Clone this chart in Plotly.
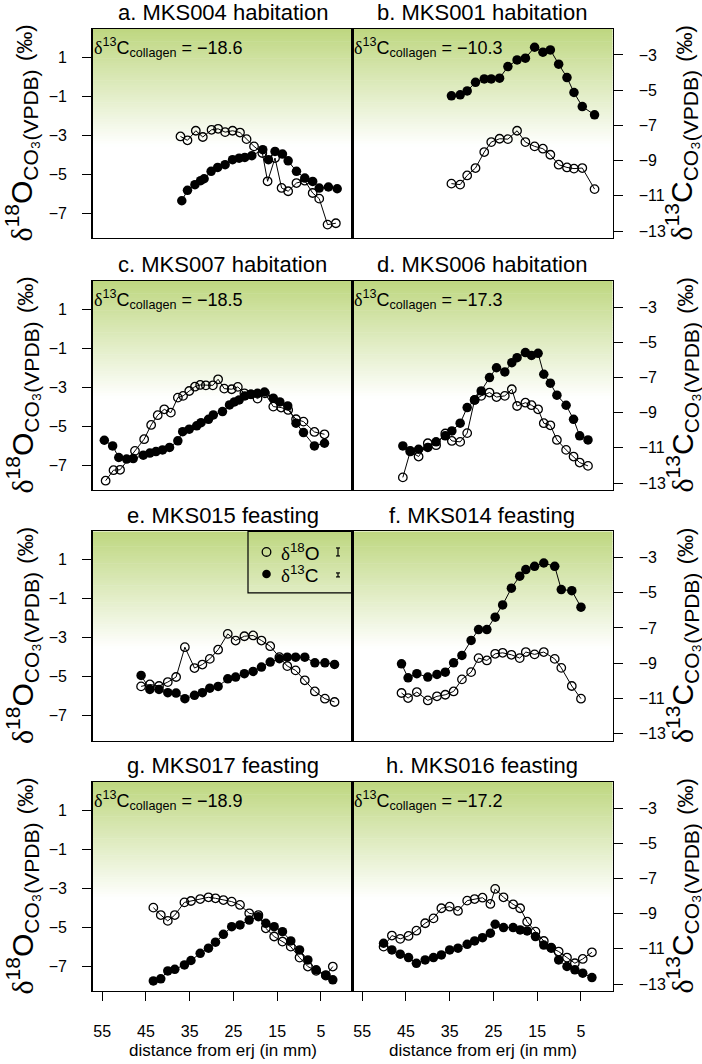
import plotly.graph_objects as go

W, H = 702, 1064
FONT = "Liberation Sans, Arial, Helvetica, sans-serif"
SERIF = "Liberation Serif"
MINUS = "\u2212"

# ---------------- data (distance from erj in mm, isotope values in permil) ----------------
titles = ["a. MKS004 habitation", "b. MKS001 habitation", "c. MKS007 habitation",
          "d. MKS006 habitation", "e. MKS015 feasting", "f. MKS014 feasting",
          "g. MKS017 feasting", "h. MKS016 feasting"]
collagen = ["−18.6", "−10.3", "−18.5", "−17.3", None, None, "−18.9", "−17.2"]

a_x18 = [37.1, 35.5, 33.6, 32.0, 30.0, 28.5, 26.9, 25.2, 23.5, 22.0, 20.3, 18.4, 17.2, 15.5, 14.0, 12.5, 10.6, 8.7, 6.9, 5.4, 3.5, 1.6]
a_d18O = [-3.07, -3.27, -2.78, -3.10, -2.73, -2.68, -2.85, -2.78, -2.87, -3.21, -3.58, -3.92, -5.37, -4.18, -5.71, -5.88, -5.46, -5.34, -5.97, -6.26, -7.59, -7.52]
a_x13 = [36.8, 35.5, 33.8, 32.5, 31.7, 30.1, 28.6, 26.9, 25.2, 23.7, 22.4, 20.8, 18.3, 17.0, 15.5, 13.8, 12.5, 10.6, 8.7, 6.9, 5.4, 3.3, 1.3]
a_d13C = [-11.28, -10.69, -10.37, -10.14, -10.03, -9.61, -9.39, -9.23, -8.95, -8.86, -8.82, -8.72, -8.38, -8.95, -8.48, -8.63, -9.01, -9.61, -9.99, -10.18, -10.56, -10.50, -10.60]

b_x = [34.6, 32.6, 31.0, 29.1, 27.1, 25.5, 23.6, 21.7, 19.6, 17.7, 15.6, 13.7, 12.0, 10.1, 8.2, 6.6, 4.7, 1.9]
b_d18O = [-5.49, -5.54, -5.07, -4.69, -3.87, -3.36, -3.19, -3.21, -2.78, -3.36, -3.58, -3.70, -4.01, -4.52, -4.66, -4.72, -4.69, -5.77]
b_d13C = [-5.32, -5.26, -5.04, -4.55, -4.36, -4.36, -4.32, -3.66, -3.28, -3.18, -2.56, -2.84, -2.71, -3.52, -4.28, -5.13, -5.93, -6.40]

c_x18 = [54.2, 52.4, 50.9, 47.5, 45.4, 43.8, 42.3, 40.8, 39.3, 37.7, 36.5, 35.1, 33.8, 32.6, 31.3, 29.7, 28.5, 27.1, 25.4, 24.0, 22.5, 21.0, 19.5, 17.8, 15.9, 14.1, 12.5, 10.7, 9.0, 6.5, 4.2]
c_d18O = [-7.80, -7.26, -7.24, -6.27, -5.67, -4.94, -4.44, -4.14, -4.31, -3.54, -3.45, -3.20, -2.98, -2.89, -2.91, -2.91, -2.60, -3.08, -3.11, -2.99, -3.32, -3.37, -3.59, -3.32, -4.00, -4.05, -4.17, -4.65, -4.77, -5.30, -5.42]
c_x13 = [54.5, 52.6, 51.2, 49.4, 47.9, 45.6, 44.1, 42.7, 41.2, 39.6, 37.7, 36.6, 35.1, 33.4, 32.4, 30.7, 29.6, 27.5, 25.9, 24.8, 23.7, 22.4, 21.0, 19.5, 17.9, 15.9, 14.4, 12.6, 10.7, 9.0, 6.5, 4.2]
c_d13C = [-10.57, -10.89, -11.55, -11.64, -11.61, -11.42, -11.30, -11.21, -11.12, -10.98, -10.60, -10.08, -9.94, -9.75, -9.57, -9.38, -9.13, -8.94, -8.56, -8.39, -8.28, -8.05, -7.96, -7.90, -7.83, -8.18, -8.39, -8.62, -9.60, -10.13, -10.89, -10.74]

d_x = [45.7, 44.0, 42.1, 40.0, 38.1, 36.0, 34.5, 32.6, 31.0, 29.3, 27.8, 25.9, 24.3, 22.4, 20.8, 19.6, 17.7, 16.3, 14.8, 13.5, 12.0, 10.5, 8.4, 6.7, 5.3, 3.4]
d_d18O = [-7.63, -6.30, -6.56, -5.88, -5.98, -5.38, -5.76, -5.81, -5.36, -3.66, -3.45, -3.28, -3.51, -3.45, -3.11, -3.97, -3.80, -3.93, -4.14, -4.85, -4.96, -5.71, -6.22, -6.56, -6.87, -7.04]
d_d13C = [-10.89, -11.17, -11.08, -10.98, -10.66, -10.32, -10.04, -9.60, -8.71, -8.28, -7.77, -7.01, -6.45, -6.69, -6.16, -5.88, -5.59, -5.75, -5.63, -6.82, -7.33, -8.01, -8.58, -9.38, -10.32, -10.55]

e_x = [46.1, 44.1, 42.0, 40.0, 38.1, 36.1, 33.9, 32.1, 30.4, 28.5, 26.3, 24.5, 22.5, 20.5, 18.6, 16.6, 14.5, 12.7, 10.8, 8.7, 6.4, 4.1, 1.9]
e_d18O = [-5.50, -5.40, -5.48, -5.28, -5.02, -3.49, -4.56, -4.38, -4.09, -3.62, -2.81, -3.15, -2.93, -2.89, -3.15, -3.44, -4.00, -4.46, -4.68, -5.19, -5.76, -6.13, -6.30]
e_d13C = [-9.70, -10.49, -10.49, -10.68, -10.70, -11.02, -10.83, -10.68, -10.42, -10.32, -9.89, -9.79, -9.60, -9.47, -9.22, -8.94, -8.75, -8.66, -8.66, -8.66, -8.98, -8.98, -9.07]

f_x = [46.0, 44.5, 42.5, 40.0, 37.9, 36.0, 34.1, 32.2, 30.1, 28.4, 26.5, 24.6, 22.9, 20.9, 19.0, 17.6, 15.6, 13.5, 11.0, 9.5, 7.1, 5.0]
f_d18O = [-5.84, -6.10, -5.79, -6.22, -6.01, -5.93, -5.76, -5.14, -4.77, -4.05, -4.17, -3.83, -3.78, -3.88, -4.05, -3.74, -3.86, -3.74, -4.09, -4.55, -5.48, -6.13]
f_d13C = [-9.04, -9.83, -9.60, -9.79, -9.64, -9.51, -8.98, -8.56, -7.71, -7.09, -7.09, -6.39, -5.69, -4.74, -4.06, -3.68, -3.50, -3.31, -3.50, -4.82, -4.88, -5.82]

g_x = [43.3, 41.6, 40.0, 38.4, 36.2, 34.7, 32.6, 30.7, 29.1, 27.3, 25.4, 23.5, 21.4, 19.3, 17.6, 15.7, 13.8, 11.9, 9.9, 8.0, 6.1, 3.9, 2.3]
g_d18O = [-4.00, -4.38, -4.68, -4.38, -3.73, -3.66, -3.56, -3.47, -3.52, -3.61, -3.69, -3.86, -4.29, -4.38, -5.06, -5.48, -5.74, -6.00, -6.56, -7.02, -7.24, -7.48, -7.02]
g_d13C = [-12.82, -12.70, -12.25, -12.16, -11.91, -11.66, -11.25, -10.96, -10.62, -10.17, -9.74, -9.64, -9.36, -9.17, -9.55, -9.74, -10.02, -10.55, -11.06, -11.63, -12.19, -12.48, -12.76]

h_x = [50.1, 48.2, 46.3, 44.4, 42.6, 40.6, 38.7, 36.9, 35.0, 33.1, 31.0, 29.3, 27.5, 25.7, 24.6, 22.7, 20.5, 18.9, 17.3, 15.4, 13.5, 11.8, 10.1, 8.2, 6.4, 4.6, 2.5]
h_d18O = [-6.00, -5.43, -5.60, -5.45, -5.18, -4.80, -4.55, -4.03, -3.95, -4.17, -3.64, -3.56, -3.49, -3.81, -3.04, -3.47, -3.83, -4.03, -4.72, -5.23, -5.71, -6.05, -6.25, -6.56, -6.85, -6.63, -6.29]
h_d13C = [-10.68, -11.06, -11.30, -11.49, -11.82, -11.63, -11.49, -11.34, -11.06, -10.96, -10.74, -10.55, -10.36, -10.11, -9.60, -9.79, -9.79, -9.92, -9.98, -10.30, -10.78, -10.96, -11.63, -12.00, -12.19, -12.38, -12.63]

panels = [
    (a_x18, a_d18O, a_x13, a_d13C),
    (b_x, b_d18O, b_x, b_d13C),
    (c_x18, c_d18O, c_x13, c_d13C),
    (d_x, d_d18O, d_x, d_d13C),
    (e_x, e_d18O, e_x, e_d13C),
    (f_x, f_d18O, f_x, f_d13C),
    (g_x, g_d18O, g_x, g_d13C),
    (h_x, h_d18O, h_x, h_d13C),
]

x_ticks = [55, 45, 35, 25, 15, 5]
y18_ticks = [1, -1, -3, -5, -7]
y13_ticks = [-3, -5, -7, -9, -11, -13]

# ---------------- layout geometry (pixels) ----------------
X_RANGE = [57.2, -2.2]
Y18_RANGE = [-8.28, 2.44]
Y13_RANGE = [-13.40, -1.52]
COL_X = [(92.5, 352.5), (352.5, 612.5)]
ROW_TOP = [29, 281.5, 532.5, 783.5]
PANEL_H = 209.5

TOP_RGB = (190, 215, 128)
N_STRIPES = 48
GRAD_FRAC = 0.56


def px(xp):
    return xp / W


def py(yp):
    return 1 - yp / H


def sfx(n):
    return "" if n == 1 else str(n)


def fmt(v):
    return str(v).replace("-", MINUS)


def delta():
    return f'<span style="font-family:{SERIF}">δ</span>'


fig = go.Figure()
layout = {}
shapes = []
annotations = []

for i, (x18, d18, x13, d13) in enumerate(panels):
    r, c = divmod(i, 2)
    k = sfx(i + 1)
    kr = sfx(i + 9)
    top = ROW_TOP[r]
    xd = [px(COL_X[c][0]), px(COL_X[c][1])]
    yd = [py(top + PANEL_H), py(top)]
    bottom = (r == 3)

    # gradient background (green at top fading to white)
    for j in range(N_STRIPES):
        t = (j + 0.5) / N_STRIPES
        col = tuple(round(TOP_RGB[m] + (255 - TOP_RGB[m]) * t) for m in range(3))
        shapes.append(dict(
            type="rect", xref=f"x{k} domain", yref=f"y{k} domain",
            x0=0, x1=1, y0=max(0, 1 - (j + 1) * GRAD_FRAC / N_STRIPES - 0.003),
            y1=1 - j * GRAD_FRAC / N_STRIPES,
            fillcolor=f"rgb{col}", line=dict(width=0), layer="below"))

    fig.add_trace(go.Scatter(
        x=x18, y=d18, xaxis=f"x{k}", yaxis=f"y{k}", mode="lines+markers",
        line=dict(color="black", width=1),
        marker=dict(symbol="circle-open", size=8.5, color="black",
                    line=dict(width=1.3, color="black")),
        showlegend=False, hoverinfo="skip"))
    fig.add_trace(go.Scatter(
        x=x13, y=d13, xaxis=f"x{k}", yaxis=f"y{kr}", mode="lines+markers",
        line=dict(color="black", width=1),
        marker=dict(symbol="circle", size=9.5, color="black", line=dict(width=0)),
        showlegend=False, hoverinfo="skip"))

    tickfont = dict(size=16, color="black", family=FONT)
    layout[f"xaxis{k}"] = dict(
        domain=xd, anchor=f"y{k}", range=X_RANGE, showline=True, mirror=True,
        linecolor="black", linewidth=1.3, showgrid=False, zeroline=False,
        ticks="outside" if bottom else "", ticklen=9, tickwidth=1, tickcolor="black",
        tickvals=x_ticks, ticktext=[str(t) for t in x_ticks],
        showticklabels=bottom, tickfont=tickfont, ticklabelstandoff=16)
    layout[f"yaxis{k}"] = dict(
        domain=yd, anchor=f"x{k}", range=Y18_RANGE, showline=True, mirror=True,
        linecolor="black", linewidth=1.3, showgrid=False, zeroline=False,
        ticks="outside" if c == 0 else "", ticklen=9, tickwidth=1, tickcolor="black",
        tickvals=y18_ticks, ticktext=[fmt(t) for t in y18_ticks],
        showticklabels=(c == 0), tickfont=tickfont, ticklabelstandoff=12)
    layout[f"yaxis{kr}"] = dict(
        overlaying=f"y{k}", anchor=f"x{k}", side="right", range=Y13_RANGE,
        showline=False, showgrid=False, zeroline=False,
        ticks="outside" if c == 1 else "", ticklen=9, tickwidth=1, tickcolor="black",
        tickvals=y13_ticks, ticktext=[fmt(t) for t in y13_ticks],
        showticklabels=(c == 1), tickfont=tickfont, ticklabelstandoff=13)

    # panel title
    annotations.append(dict(
        text=titles[i], xref="paper", yref="paper",
        x=(xd[0] + xd[1]) / 2, y=py(top - 2), xanchor="center", yanchor="bottom",
        showarrow=False, font=dict(size=22, color="black", family=FONT)))

    # collagen value
    if collagen[i]:
        annotations.append(dict(
            text=f"{delta()}<sup>13</sup>C<sub>collagen</sub> = {collagen[i]}",
            xref="paper", yref="paper", x=px(COL_X[c][0] - 1), y=py(top + 4),
            xanchor="left", yanchor="top", showarrow=False,
            font=dict(size=18, color="black", family=FONT)))

# axis titles
for r in range(4):
    cy = py(ROW_TOP[r] + PANEL_H / 2)
    annotations.append(dict(
        text=f"{delta()}<sup>18</sup>O<sub>CO₃(VPDB)</sub> <span style=\"font-size:22px\">(‰)</span>",
        xref="paper", yref="paper", x=px(22), y=cy, xanchor="center", yanchor="middle",
        textangle=-90, showarrow=False, font=dict(size=30, color="black", family=FONT)))
    annotations.append(dict(
        text=f"{delta()}<sup>13</sup>C<sub>CO₃(VPDB)</sub> <span style=\"font-size:22px\">(‰)</span>",
        xref="paper", yref="paper", x=px(682), y=cy, xanchor="center", yanchor="middle",
        textangle=-90, showarrow=False, font=dict(size=30, color="black", family=FONT)))

for c in range(2):
    annotations.append(dict(
        text="distance from erj (in mm)", xref="paper", yref="paper",
        x=px((COL_X[c][0] + COL_X[c][1]) / 2), y=py(1052), xanchor="center",
        yanchor="middle", showarrow=False,
        font=dict(size=17, color="black", family=FONT)))

# legend box in panel e
LX0, LX1, LY0, LY1 = 248, 352.5, 532.5, 594
shapes.append(dict(type="rect", xref="paper", yref="paper", x0=px(LX0), x1=px(LX1),
                   y0=py(LY1), y1=py(LY0), line=dict(color="black", width=1.2)))
for row_y, filled in [(553, False), (575, True)]:
    rad = 4.3
    shapes.append(dict(type="circle", xref="paper", yref="paper",
                       x0=px(266.5 - rad), x1=px(266.5 + rad),
                       y0=py(row_y + rad), y1=py(row_y - rad),
                       fillcolor="black" if filled else "rgba(0,0,0,0)",
                       line=dict(color="black", width=0 if filled else 1.3)))
annotations.append(dict(text=f"{delta()}<sup>18</sup>O", xref="paper", yref="paper",
                        x=px(279), y=py(553), xanchor="left", yanchor="middle",
                        showarrow=False, font=dict(size=19, color="black", family=FONT)))
annotations.append(dict(text=f"{delta()}<sup>13</sup>C", xref="paper", yref="paper",
                        x=px(279), y=py(575), xanchor="left", yanchor="middle",
                        showarrow=False, font=dict(size=19, color="black", family=FONT)))
# precision bars
for cy, half in [(553, 4), (576, 2)]:
    shapes.append(dict(type="line", xref="paper", yref="paper", x0=px(338), x1=px(338),
                       y0=py(cy + half), y1=py(cy - half), line=dict(color="black", width=1.2)))
    for yy in (cy - half, cy + half):
        shapes.append(dict(type="line", xref="paper", yref="paper", x0=px(336), x1=px(340),
                           y0=py(yy), y1=py(yy), line=dict(color="black", width=1.2)))

fig.update_layout(
    width=W, height=H, autosize=False,
    margin=dict(l=0, r=0, t=0, b=0),
    paper_bgcolor="white", plot_bgcolor="white",
    font=dict(family=FONT, color="black"),
    shapes=shapes, annotations=annotations,
    **layout)

fig.write_html("out.html",
               config={"displayModeBar": False, "staticPlot": True},
               post_script="document.body.style.margin='0';document.body.style.overflow='hidden';")
